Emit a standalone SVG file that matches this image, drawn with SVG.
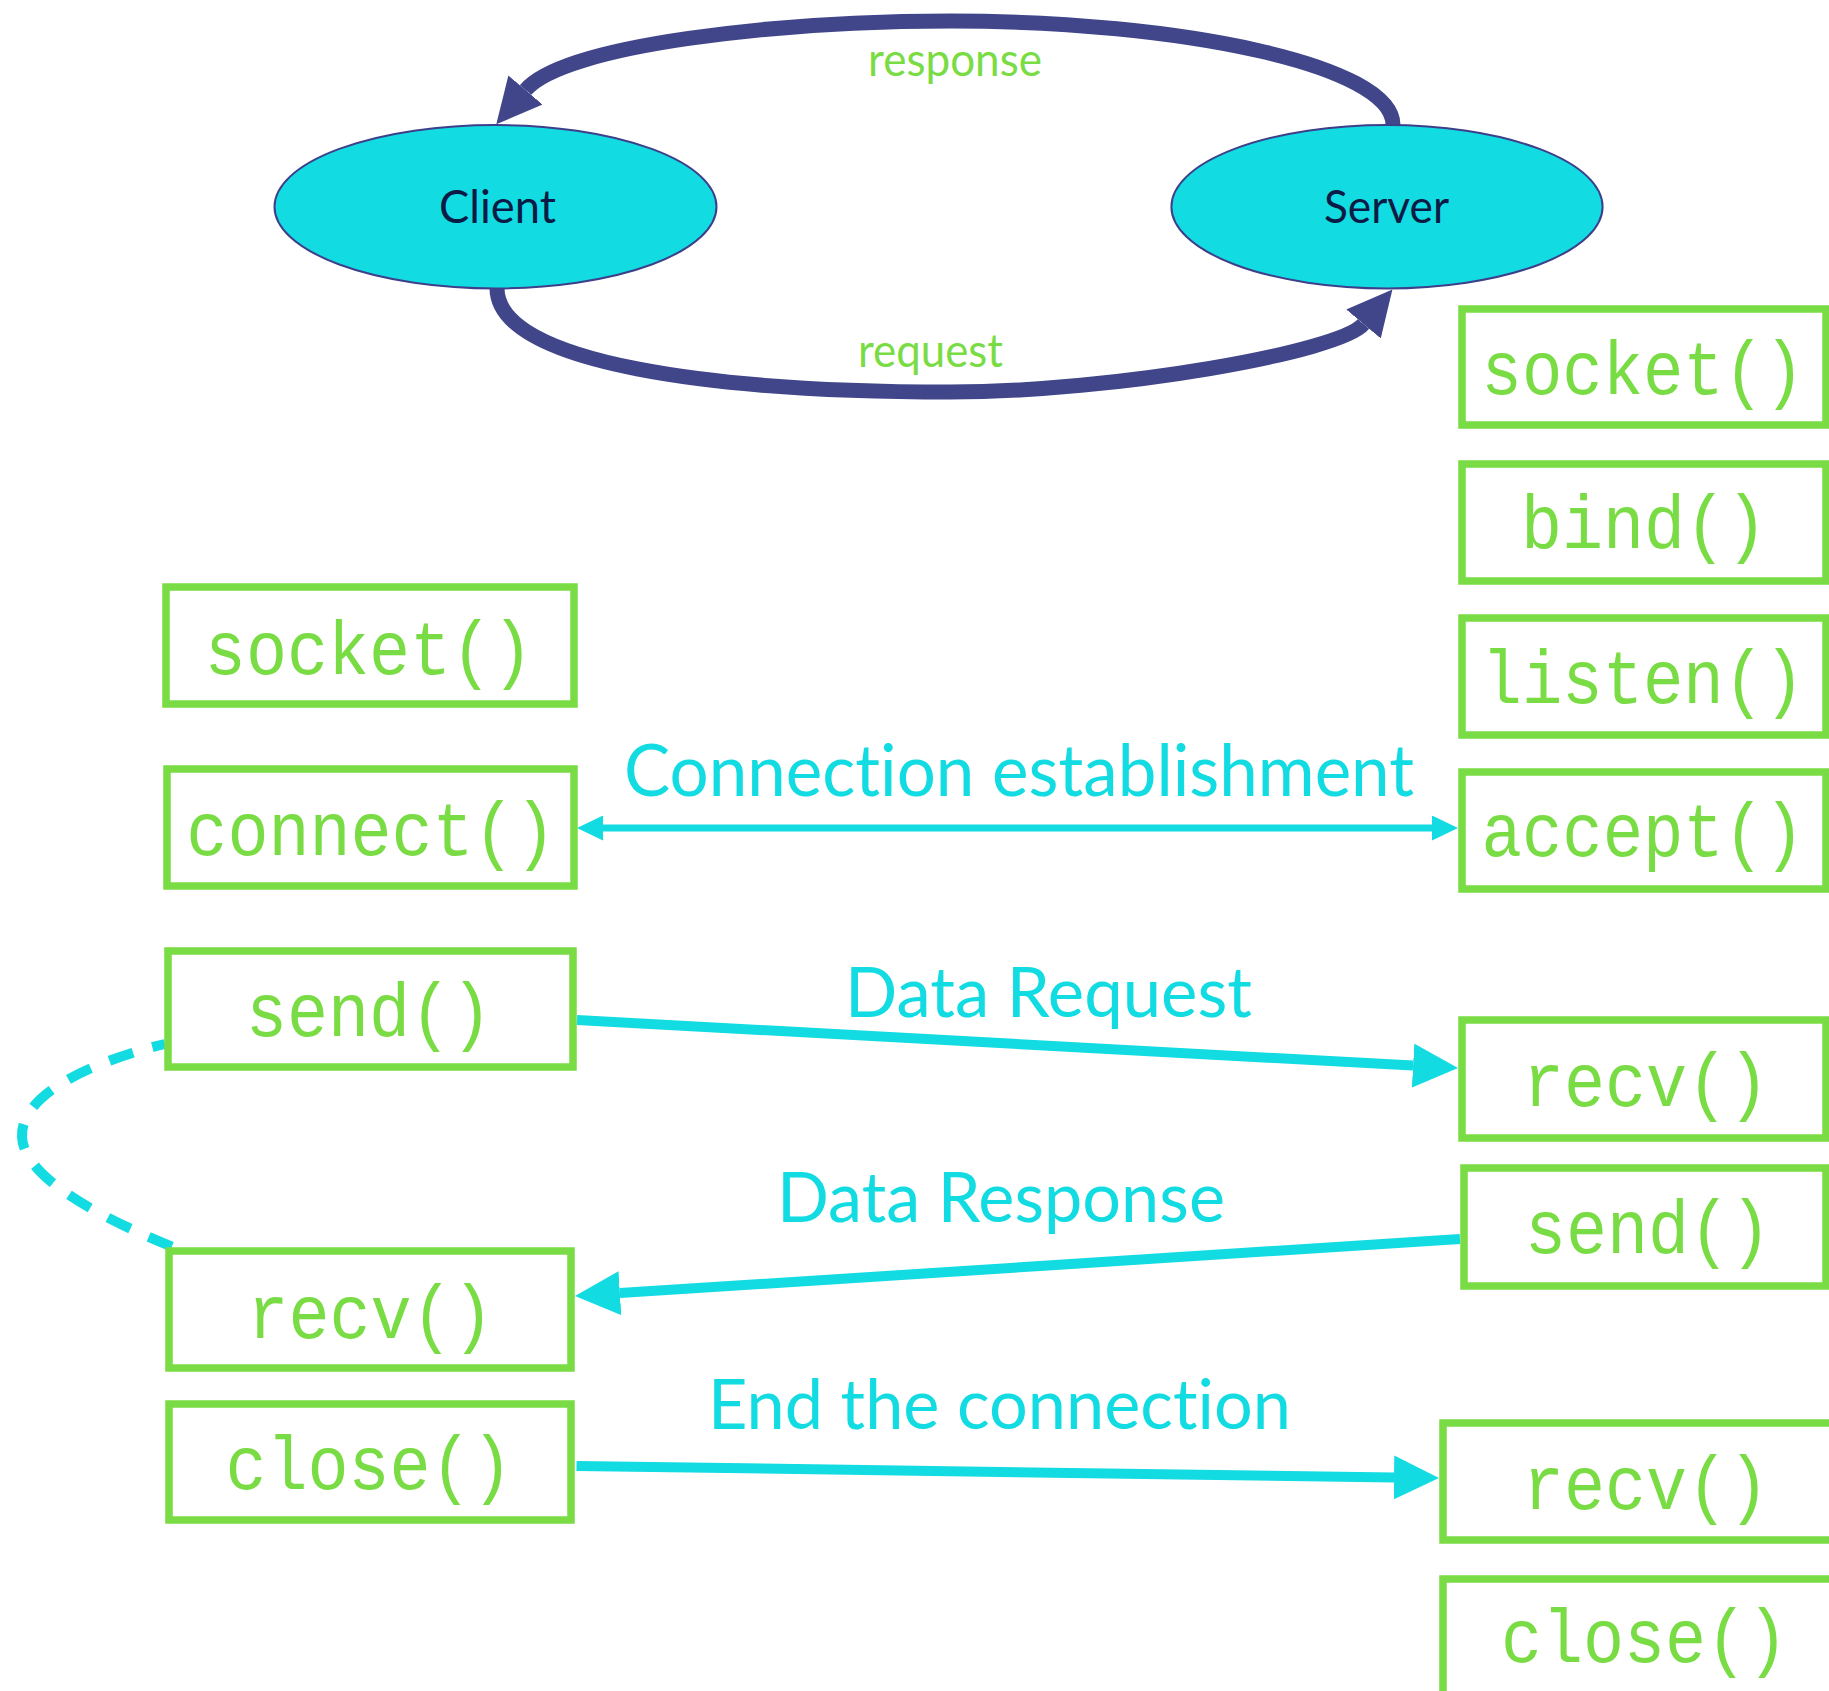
<svg xmlns="http://www.w3.org/2000/svg" width="1829" height="1691" viewBox="0 0 1829 1691">
<style>
.box{fill:none;stroke:#7ADC44;stroke-width:7.5}
.fn{font-family:"Liberation Mono","DejaVu Sans Mono",monospace;font-size:76px;fill:#7ADC44;text-anchor:middle}
.lbl{font-family:Lato,"Open Sans",sans-serif;fill:#12DBE2;text-anchor:middle;font-variant-ligatures:none}
.glbl{font-family:Lato,"Open Sans",sans-serif;fill:#7ADC44;text-anchor:middle;font-size:46px;font-variant-ligatures:none}
.nd{fill:#12DBE2;stroke:#3D3F8A;stroke-width:2}
.ndt{font-family:Lato,"Open Sans",sans-serif;fill:#0B1B45;text-anchor:middle;font-size:46px}
.arc{fill:none;stroke:#41468A;stroke-width:15}
.cy{fill:none;stroke:#12DBE2;stroke-width:10}
</style>
<defs>
<marker id="ahNavy" markerUnits="userSpaceOnUse" viewBox="0 0 45 45" markerWidth="45" markerHeight="45" refX="0" refY="22.5" orient="auto"><path d="M0,0 L45,22.5 L0,45 z" fill="#41468A"/></marker>
<marker id="ahCyan" markerUnits="userSpaceOnUse" viewBox="0 0 45 44" markerWidth="45" markerHeight="44" refX="0" refY="22" orient="auto"><path d="M0,0 L45,22 L0,44 z" fill="#12DBE2"/></marker>
<marker id="ahSmall" markerUnits="userSpaceOnUse" viewBox="0 0 26 25" markerWidth="26" markerHeight="25" refX="0" refY="12.5" orient="auto-start-reverse"><path d="M0,0 L26,12.5 L0,25 z" fill="#12DBE2"/></marker>
</defs>

<g id="connectors">
<path class="arc" d="M 1393 135 L 1393 125 C 1393 65 1180 21 951 21 C 780 21 564.4 44.4 525.5 90" marker-end="url(#ahNavy)"/>
<path class="arc" d="M 497 280 L 497 288 C 497 365 720 392 950 392 C 1115 392 1340 352 1363.5 324" marker-end="url(#ahNavy)"/>
<path class="cy" style="stroke-width:7" d="M 603 828 L 1432 828" marker-start="url(#ahSmall)" marker-end="url(#ahSmall)"/>
<path class="cy" d="M 577 1020 L 1413.1 1065.6" marker-end="url(#ahCyan)"/>
<path class="cy" d="M 1460 1239 L 619.9 1293.1" marker-end="url(#ahCyan)"/>
<path class="cy" d="M 576.5 1466 L 1394 1477.4" marker-end="url(#ahCyan)"/>
<path class="cy" style="stroke-width:10;stroke-dasharray:25 20;stroke-dashoffset:12" d="M 165 1044 C 90 1062 20 1095 22 1137 C 24 1180 110 1222 178 1249"/>
<text class="glbl" x="955" y="76" textLength="174" lengthAdjust="spacingAndGlyphs">response</text>
<text class="glbl" x="930.5" y="367" textLength="145" lengthAdjust="spacingAndGlyphs">request</text>
<text class="lbl" x="1019" y="796" font-size="72" textLength="790" lengthAdjust="spacingAndGlyphs">Connection establishment</text>
<text class="lbl" x="1048.5" y="1017" font-size="69" textLength="407" lengthAdjust="spacingAndGlyphs">Data Request</text>
<text class="lbl" x="1001" y="1222" font-size="70" textLength="448" lengthAdjust="spacingAndGlyphs">Data Response</text>
<text class="lbl" x="999.5" y="1429" font-size="70" textLength="583" lengthAdjust="spacingAndGlyphs">End the connection</text>
</g>

<g id="client">
<ellipse class="nd" cx="495.5" cy="206.7" rx="221" ry="81.7"/>
<text class="ndt" x="497.5" y="222.7" textLength="117" lengthAdjust="spacingAndGlyphs">Client</text>
</g>
<g id="server">
<ellipse class="nd" cx="1387" cy="206.7" rx="215.6" ry="81.7"/>
<text class="ndt" x="1386.5" y="222.7" textLength="125" lengthAdjust="spacingAndGlyphs">Server</text>
</g>

<g id="c-socket"><rect class="box" x="166" y="587" width="408" height="117"/><text class="fn" transform="translate(369 673.6) scale(0.9 1)">socket()</text></g>
<g id="c-connect"><rect class="box" x="167" y="769" width="407" height="117"/><text class="fn" transform="translate(371 854.6) scale(0.9 1)">connect()</text></g>
<g id="c-send"><rect class="box" x="168" y="951" width="405" height="116"/><text class="fn" transform="translate(369 1036) scale(0.9 1)">send()</text></g>
<g id="c-recv"><rect class="box" x="169" y="1251" width="402" height="117"/><text class="fn" transform="translate(370.5 1337.5) scale(0.9 1)">recv()</text></g>
<g id="c-close"><rect class="box" x="169" y="1404" width="402" height="116"/><text class="fn" transform="translate(369 1489) scale(0.9 1)">close()</text></g>

<g id="s-socket"><rect class="box" x="1462" y="309" width="364" height="116"/><text class="fn" transform="translate(1643 394) scale(0.885 1)">socket()</text></g>
<g id="s-bind"><rect class="box" x="1462" y="464" width="364" height="117"/><text class="fn" transform="translate(1644 547.8) scale(0.9 1)">bind()</text></g>
<g id="s-listen"><rect class="box" x="1462" y="618" width="364" height="117"/><text class="fn" transform="translate(1643 703) scale(0.885 1)">listen()</text></g>
<g id="s-accept"><rect class="box" x="1462" y="772" width="364" height="117"/><text class="fn" transform="translate(1643 856) scale(0.885 1)">accept()</text></g>
<g id="s-recv"><rect class="box" x="1462" y="1020" width="364" height="118"/><text class="fn" transform="translate(1646 1105.8) scale(0.9 1)">recv()</text></g>
<g id="s-send"><rect class="box" x="1464" y="1168" width="362" height="118"/><text class="fn" transform="translate(1648 1253.4) scale(0.9 1)">send()</text></g>
<g id="s-recv2"><rect class="box" x="1443" y="1423" width="400" height="117"/><text class="fn" transform="translate(1646 1509) scale(0.9 1)">recv()</text></g>
<g id="s-close"><rect class="box" x="1443" y="1579" width="400" height="200"/><text class="fn" transform="translate(1644.5 1662) scale(0.9 1)">close()</text></g>
</svg>
